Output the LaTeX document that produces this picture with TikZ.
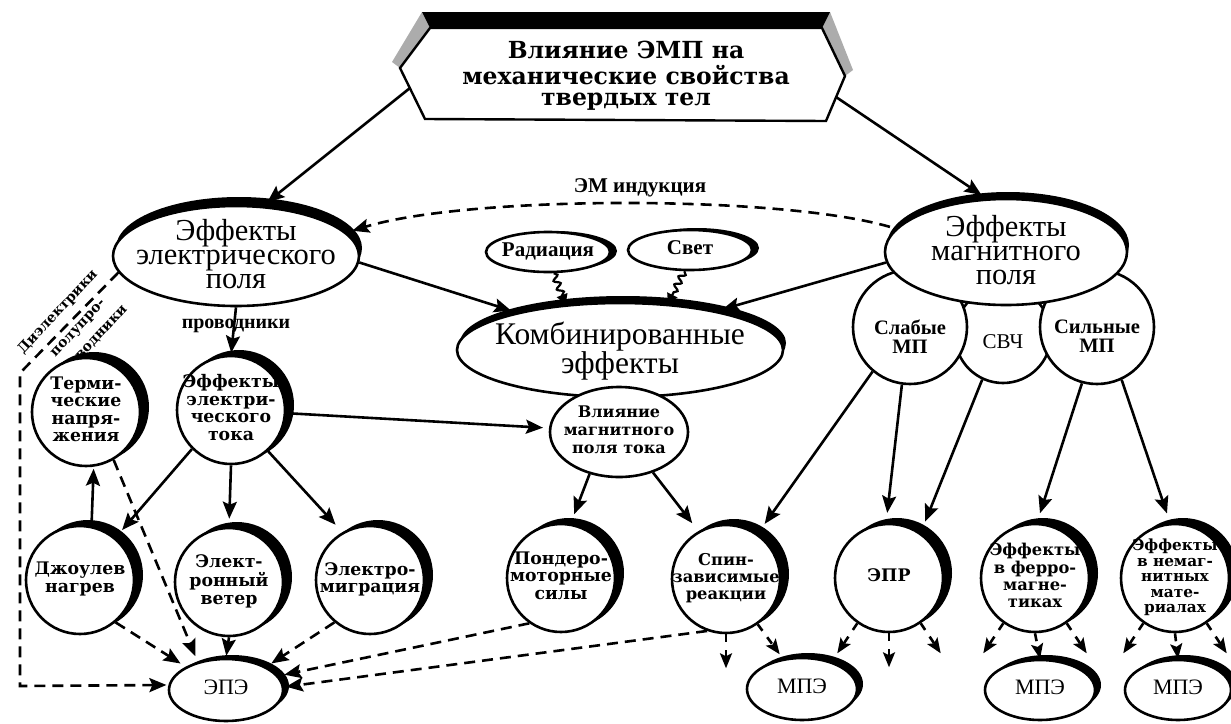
\documentclass[tikz,border=0pt]{standalone}
\usepackage{fontspec}
\setmainfont{Liberation Serif}
\newfontfamily\dvs{DejaVu Serif}
\usetikzlibrary{arrows.meta,shapes.geometric,decorations.pathmorphing,calc}
\newcommand\zb[1]{\makebox[0pt]{\raisebox{-.25em}[0pt][0pt]{\begin{tabular}[c]{@{}c@{}}#1\end{tabular}}}}
\newcommand\hexf{\dvs\bfseries\fontsize{23.5}{21}\selectfont}
\newcommand\bigf{\fontsize{30.5}{24}\selectfont}
\newcommand\cf{\dvs\bfseries\fontsize{17.3}{17.5}\selectfont}
\newcommand\smf{\bfseries\fontsize{21}{21}\selectfont}
\newcommand\cshad[2]{\fill (#1+8,#2-5) circle[radius=55];}
\tikzset{
  arr/.style={line width=2.6pt,-{Stealth[length=17pt,width=14pt,inset=3pt]},shorten >=6pt},
  darr/.style={arr,dash pattern=on 11pt off 7pt},
  sarr/.style={line width=2.6pt,-{Stealth[length=15pt,width=12pt,inset=3pt]},dash pattern=on 8pt off 8pt},
  wav/.style={line width=2.2pt,decorate,decoration={snake,amplitude=3pt,segment length=9pt,post length=9pt},-{Triangle[length=10pt,width=11pt]}},
  circ/.style={circle,draw,line width=2.6pt,fill=white,minimum size=108pt,inner sep=0pt,font=\cf},
  ell/.style={ellipse,draw,line width=2.6pt,fill=white,inner sep=0pt},
  lbl/.style={inner sep=0pt},
  rlbl/.style={inner sep=0pt,rotate=47,font=\dvs\bfseries\fontsize{14}{14}\selectfont},
}
\begin{document}
\begin{tikzpicture}[x=1pt,y=-1pt]
\useasboundingbox (0,0) rectangle (1231,723);
\fill[white] (0,0) rectangle (1231,723);

% ---------- top hexagon
\fill[gray!65] (392,62) -- (422,12) -- (830,12) -- (853,70) -- (845,76) -- (400,68) -- cycle;
\fill (422,12) -- (830,12) -- (822,28) -- (430,28) -- cycle;
\draw[line width=2.4pt,fill=white] (400,68) -- (430,28) -- (822,28) -- (845,76) -- (826,121) -- (425,119) -- cycle;
\node[font=\hexf] (hex) at (626,77) {\zb{Влияние ЭМП на\\механические свойства\\твердых тел}};
\coordinate (hexL) at (410,88);
\coordinate (hexR) at (836,97);

% ---------- big ellipses
\fill (239,248) ellipse[x radius=123,y radius=51];
\node[ell,minimum width=246pt,minimum height=100pt,font=\bigf] (elec) at (236,256) {\zb{Эффекты\\электрического\\поля}};

\node[circ,minimum size=96pt,font=\fontsize{21}{21}\selectfont] (svch) at (1003,335) {\zb{\\[-2pt]СВЧ}};
\node[circ,minimum size=114pt,font=\fontsize{20.5}{19}\selectfont\bfseries] (weak) at (910,327) {\zb{\\[6pt]Слабые\\МП}};
\node[circ,minimum size=114pt,font=\fontsize{20.5}{19}\selectfont\bfseries] (strong) at (1097,327) {\zb{\\[6pt]Сильные\\МП}};
\fill (1008,245) ellipse[x radius=121,y radius=53];
\node[ell,minimum width=242pt,minimum height=106pt,font=\bigf] (mag) at (1006,252) {\zb{Эффекты\\магнитного\\поля}};

\fill (623,343) ellipse[x radius=163,y radius=47];
\node[ell,minimum width=326pt,minimum height=94pt,font=\fontsize{31.5}{25}\selectfont] (komb) at (620,350) {\zb{Комбинированные\\эффекты}};

\fill (555,251) ellipse[x radius=62,y radius=20];
\node[ell,minimum width=124pt,minimum height=40pt,font=\smf] (rad) at (548,252) {\zb{Радиация}};
\fill (697,248) ellipse[x radius=62,y radius=20];
\node[ell,minimum width=124pt,minimum height=40pt,font=\smf] (svet) at (690,250) {\zb{Свет}};

\node[ell,minimum width=138pt,minimum height=90pt,font=\dvs\bfseries\fontsize{16}{18}\selectfont] (vl) at (619,432) {\zb{Влияние\\магнитного\\поля тока}};

% ---------- circles
\cshad{86}{412}\node[circ] (term) at (86,412) {\zb{Терми-\\ческие\\напря-\\жения}};
\cshad{231}{410}\node[circ] (cur) at (231,410) {\zb{Эффекты\\электри-\\ческого\\тока}};
\cshad{80}{580}\node[circ] (joule) at (80,580) {\zb{Джоулев\\нагрев}};
\cshad{229}{582}\node[circ] (wind) at (229,582) {\zb{Элект-\\ронный\\ветер}};
\cshad{370}{580}\node[circ] (migr) at (370,580) {\zb{Электро-\\миграция}};
\cshad{561}{578}\node[circ] (pond) at (561,578) {\zb{Пондеро-\\моторные\\силы}};
\cshad{726}{579}\node[circ,font=\dvs\bfseries\fontsize{16.3}{17}\selectfont] (spin) at (726,579) {\zb{Спин-\\зависимые\\реакции}};
\cshad{889}{578}\node[circ] (epr) at (889,578) {\zb{ЭПР}};
\cshad{1035}{578}\node[circ,font=\dvs\bfseries\fontsize{16.3}{17}\selectfont] (ferro) at (1035,578) {\zb{Эффекты\\в ферро-\\магне-\\тиках}};
\cshad{1175}{578}\node[circ,font=\dvs\bfseries\fontsize{15.3}{15.5}\selectfont] (nonmag) at (1175,578) {\zb{Эффекты\\в немаг-\\нитных\\мате-\\риалах}};

% ---------- bottom ellipses
\fill (232,686) ellipse[x radius=57,y radius=31];
\node[ell,minimum width=114pt,minimum height=62pt,font=\fontsize{22}{22}\selectfont] (epe) at (226,690) {\zb{ЭПЭ}};
\fill (808,684) ellipse[x radius=55,y radius=31];
\node[ell,minimum width=110pt,minimum height=62pt,font=\fontsize{22}{22}\selectfont] (mpe1) at (802,689) {\zb{МПЭ}};
\fill (1046,685) ellipse[x radius=55,y radius=30];
\node[ell,minimum width=110pt,minimum height=60pt,font=\fontsize{22}{22}\selectfont] (mpe2) at (1040,690) {\zb{МПЭ}};
\fill (1184,685) ellipse[x radius=53,y radius=30];
\node[ell,minimum width=106pt,minimum height=60pt,font=\fontsize{22}{22}\selectfont] (mpe3) at (1178,690) {\zb{МПЭ}};

% ---------- labels
\node[lbl,font=\smf] (emi) at (640,188) {ЭМ индукция};
\node[lbl,font=\bfseries\fontsize{20}{20}\selectfont] (prov) at (236,326) {проводники};
\node[rlbl] (diel) at (58,312) {Диэлектрики};
\node[rlbl] (polu) at (79,329) {полупро-};
\node[rlbl] (vodn) at (102,333) {водники};

% ---------- connectors
\draw[arr] (hexL) -- (elec.62);
\draw[arr] (hexR) -- (mag.110);
\draw[darr,shorten <=6pt] (mag.168) .. controls (780,195) and (470,195) .. (elec.12);
\draw[arr] (elec.-3) -- (komb.160);
\draw[arr] (mag.185) -- (komb.22);
\draw[wav] (rad.-75) -- (komb.140);
\draw[wav] (svet.-105) -- (komb.44);
\draw[arr,shorten >=2pt] (elec.south) -- (cur.north);
\draw[darr,shorten >=2pt] (elec.188) -- (20,373) -- (20,686) -- (epe.175);

\draw[arr] (cur) -- (vl);
\draw[arr,shorten >=10pt] (cur.-135) -- (joule.50);
\draw[arr,shorten >=8pt] (cur.south) -- (wind.north);
\draw[arr,shorten >=10pt] (cur.-48) -- (migr.120);
\draw[arr,shorten >=2pt] (joule.78) -- (term.-82);

\draw[darr] (term.-60) -- (epe.135);
\draw[darr] (joule.-50) -- (epe.150);
\draw[arr,shorten >=2pt] (wind.south) -- (epe.north);
\draw[darr] (migr.-130) -- (epe.30);
\draw[darr] (pond.-125) -- (epe.15);
\draw[darr,shorten >=2pt] (spin.-110) -- (epe.3);

\draw[arr,shorten >=10pt] (vl.-125) -- (pond.80);
\draw[arr,shorten >=10pt] (vl.-50) -- (spin.120);
\draw[arr,shorten >=12pt] (weak.-130) -- (spin.55);
\draw[arr,shorten >=10pt] (weak.-98) -- (epr.93);
\draw[arr,shorten >=12pt] (svch.-115) -- (epr.55);
\draw[arr,shorten >=10pt] (strong.-105) -- (ferro.88);
\draw[arr,shorten >=10pt] (strong.-65) -- (nonmag.95);

\draw[sarr] (spin.-90) -- ++(0,34);
\draw[sarr] (spin.-55) -- ++(22,30);
\draw[sarr] (epr.-125) -- ++(-20,30);
\draw[sarr] (epr.-90) -- ++(0,34);
\draw[sarr] (epr.-55) -- ++(20,30);
\draw[sarr] (ferro.-125) -- ++(-20,30);
\draw[sarr] (ferro.-90) -- (mpe2.north);
\draw[sarr] (ferro.-55) -- ++(20,30);
\draw[sarr] (nonmag.-125) -- ++(-20,30);
\draw[sarr] (nonmag.-90) -- (mpe3.north);
\draw[sarr] (nonmag.-55) -- ++(20,30);
\end{tikzpicture}
\end{document}
